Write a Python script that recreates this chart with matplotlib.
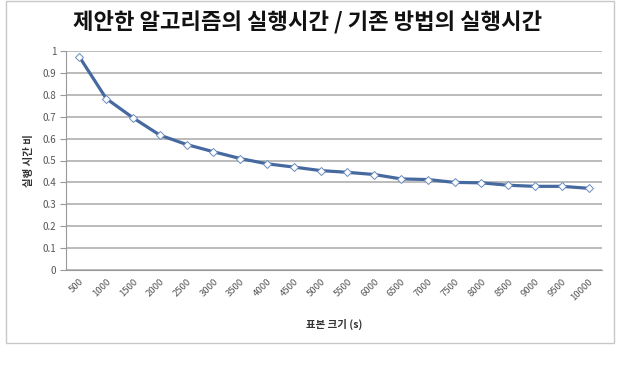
import matplotlib
matplotlib.use("Agg")
import matplotlib.pyplot as plt
from matplotlib.patches import Rectangle

plt.rcParams['font.family'] = ['Noto Sans CJK KR', 'DejaVu Sans']

categories = ['500', '1000', '1500', '2000', '2500', '3000', '3500', '4000', '4500', '5000',
              '5500', '6000', '6500', '7000', '7500', '8000', '8500', '9000', '9500', '10000']
ratio = [0.973, 0.783, 0.695, 0.616, 0.573, 0.540, 0.509, 0.485, 0.470, 0.454,
         0.446, 0.436, 0.416, 0.413, 0.400, 0.398, 0.387, 0.382, 0.382, 0.373]
yticks = [0, 0.1, 0.2, 0.3, 0.4, 0.5, 0.6, 0.7, 0.8, 0.9, 1]
ytick_labels = ['0', '0.1', '0.2', '0.3', '0.4', '0.5', '0.6', '0.7', '0.8', '0.9', '1']

W, H = 619, 365
fig = plt.figure(figsize=(W / 100, H / 100), dpi=100)
fig.patch.set_facecolor('white')

# outer chart border
fig.add_artist(Rectangle((6 / W, 1 - 343 / H), (614 - 6) / W, (343 - 1) / H,
                         transform=fig.transFigure, fill=False, edgecolor='#c8c8c8', lw=1))

ax = fig.add_axes([66 / W, 1 - 270 / H, (602 - 66) / W, (270 - 51) / H])
x = list(range(len(categories)))
ax.plot(x, ratio, color='#46699f', lw=2.3, marker='D', markersize=3.6,
        markerfacecolor='white', markeredgecolor='#6a8cc0', markeredgewidth=0.7, zorder=3)

ax.set_xlim(-0.5, len(categories) - 0.5)
ax.set_ylim(0, 1)
ax.set_yticks(yticks)
ax.set_yticklabels(ytick_labels, fontsize=7, color='#555555')
ax.set_xticks(x)
ax.set_xticklabels(categories, rotation=45, fontsize=6.8, color='#555555',
                   ha='right', rotation_mode='anchor')
ax.tick_params(axis='x', length=0, pad=5)
ax.tick_params(axis='y', length=4, color='#999999', width=0.8, direction='out', pad=3)
ax.grid(axis='y', color='#a8a8a8', lw=1.1)
ax.set_axisbelow(True)
for s in ['top', 'right']:
    ax.spines[s].set_visible(False)
ax.spines['left'].set_color('#999999')
ax.spines['bottom'].set_color('#999999')

ax.set_ylabel('실행 시간 비', fontsize=7.5, color='#333333', labelpad=6, fontweight='bold')
ax.set_xlabel('표본 크기 (s)', fontsize=7.5, color='#333333', labelpad=12, fontweight='bold')

fig.text(308 / W, 1 - 23 / H, '제안한 알고리즘의 실행시간 / 기존 방법의 실행시간',
         ha='center', va='center', fontsize=16, fontweight='bold', color='#111111')

fig.savefig('out.png', dpi=100, facecolor='white')
